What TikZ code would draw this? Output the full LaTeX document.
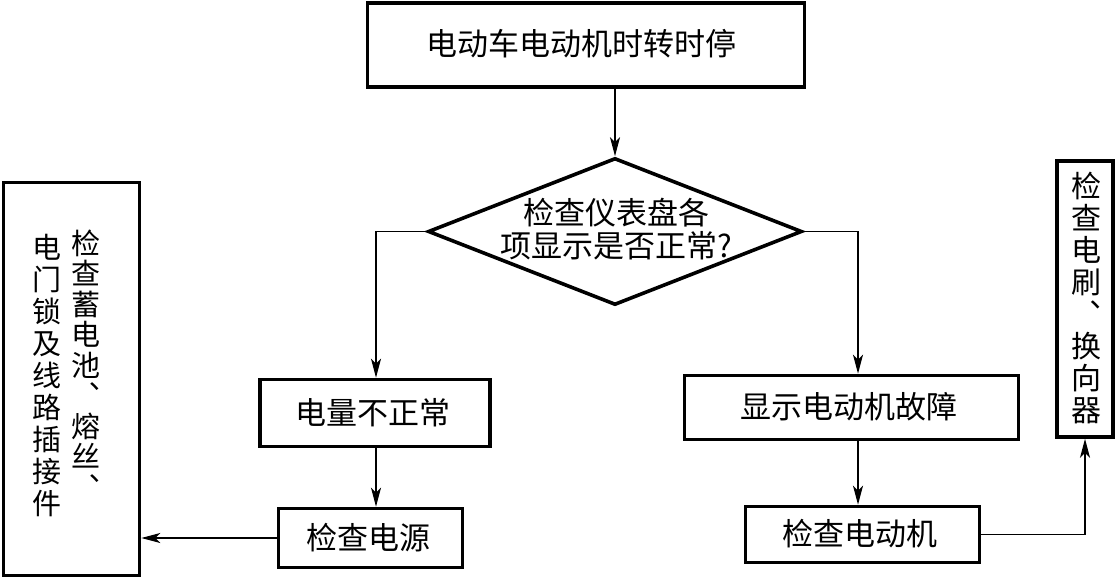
\documentclass[tikz,border=0pt]{standalone}
\usepackage{fontspec}
\setmainfont{Noto Sans CJK SC}
\usetikzlibrary{shapes.geometric,arrows.meta}
\begin{document}
\begin{tikzpicture}[x=1pt,y=-1pt,
  box/.style={draw,line width=3.6pt,rectangle,inner sep=0pt},
  txt/.style={font=\fontsize{31}{33}\selectfont,inner sep=0pt,align=center},
  vtxt/.style={inner sep=0pt,align=center},
  conn/.style={line width=1.8pt},
  arr/.style={conn,-{Stealth[length=19pt,width=10pt,inset=5pt]}}]
\useasboundingbox (0,0) rectangle (1116,578);
\node[box,minimum width=437pt,minimum height=84pt] (top) at (586,45) {};
\node[txt] (toptxt) at (581,44) {电动车电动机时转时停};
\node[box,diamond,minimum width=374pt,minimum height=147pt] (dia) at (615,231.5) {};
\node[txt] (diatxt) at (616,229) {检查仪表盘各\\项显示是否正常?};
\node[box,minimum width=230pt,minimum height=67pt] (b1) at (375,413) {};
\node[txt] (b1txt) at (373,413) {电量不正常};
\node[box,minimum width=334pt,minimum height=64pt] (b2) at (851.5,407.5) {};
\node[txt] (b2txt) at (849,407) {显示电动机故障};
\node[box,minimum width=184pt,minimum height=59pt] (b3) at (370.5,538) {};
\node[txt] (b3txt) at (368,538) {检查电源};
\node[box,minimum width=234pt,minimum height=56pt] (b4) at (862.5,534.5) {};
\node[txt] (b4txt) at (860,534) {检查电动机};
\node[box,minimum width=136pt,minimum height=393pt] (lbox) at (71.5,379) {};
\node[vtxt,font=\fontsize{29}{30.5}\selectfont] (lc1) at (86,364) {检\\查\\蓄\\电\\池\\︑\\熔\\丝\\︑};
\node[vtxt,font=\fontsize{29}{32}\selectfont] (lc2) at (47,376) {电\\门\\锁\\及\\线\\路\\插\\接\\件};
\node[box,minimum width=56pt,minimum height=276pt] (rbox) at (1085,299) {};
\node[vtxt,font=\fontsize{30}{32}\selectfont] (rc) at (1086,298) {检\\查\\电\\刷\\︑\\换\\向\\器};
\coordinate (lx) at (376,231.5);
\coordinate (rx) at (858,231.5);
\draw[arr] (dia.north |- top.south) -- (dia.north);
\draw[arr] (dia.west) -- (lx) -- (lx |- b1.north);
\draw[arr] (dia.east) -- (rx) -- (rx |- b2.north);
\draw[arr] (lx |- b1.south) -- (lx |- b3.north);
\draw[arr] (rx |- b2.south) -- (rx |- b4.north);
\draw[arr] (b3.west) -- (b3.west -| lbox.east);
\draw[arr] (b4.east) -| (rbox.south);
\end{tikzpicture}
\end{document}
